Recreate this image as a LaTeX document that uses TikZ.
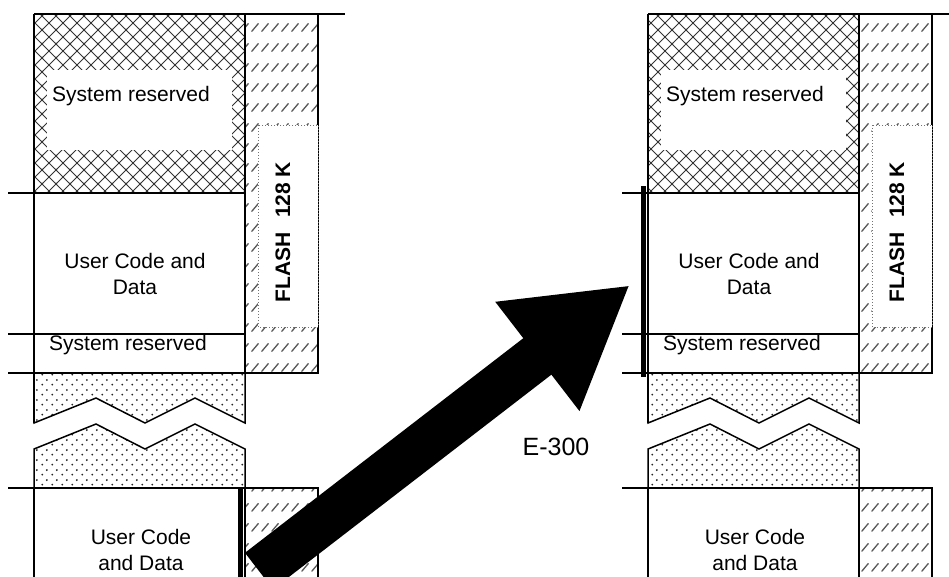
\documentclass[tikz,border=0pt]{standalone}
\usepackage{fontspec}
\setmainfont{Liberation Sans}
\usetikzlibrary{patterns,arrows.meta}

% fill patterns of the memory map
\pgfdeclarepatternformonly{xhatch}{\pgfpoint{-1pt}{-1pt}}{\pgfpoint{15pt}{15pt}}{\pgfpoint{14pt}{14pt}}{
  \pgfsetlinewidth{0.9pt}
  \pgfpathmoveto{\pgfpoint{-1pt}{-1pt}}\pgfpathlineto{\pgfpoint{15pt}{15pt}}
  \pgfpathmoveto{\pgfpoint{-1pt}{15pt}}\pgfpathlineto{\pgfpoint{15pt}{-1pt}}
  \pgfusepath{stroke}}
\pgfdeclarepatternformonly{dotgrid}{\pgfpoint{0pt}{0pt}}{\pgfpoint{10pt}{10pt}}{\pgfpoint{10pt}{10pt}}{
  \pgfpathcircle{\pgfpoint{2.5pt}{2.5pt}}{1.1pt}
  \pgfpathcircle{\pgfpoint{7.5pt}{7.5pt}}{1.1pt}
  \pgfusepath{fill}}
\pgfdeclarepatternformonly{dashhatch}{\pgfpoint{0pt}{0pt}}{\pgfpoint{10pt}{20pt}}{\pgfpoint{10pt}{20pt}}{
  \pgfsetlinewidth{1.4pt}
  \pgfsetroundcap
  \pgfpathmoveto{\pgfpoint{2pt}{6pt}}\pgfpathlineto{\pgfpoint{9pt}{14pt}}
  \pgfusepath{stroke}}

\tikzset{
  memline/.style={line width=1.5pt},
  secline/.style={line width=2.2pt},
  membar/.style={line width=5pt},
  memtext/.style={font=\fontsize{21}{25.5}\selectfont, align=center, inner sep=0pt},
  xfill/.style={pattern=xhatch, pattern color=black!80},
  dotfill/.style={pattern=dotgrid, pattern color=black!85},
  flashfill/.style={pattern=dashhatch, pattern color=black!65},
}

\begin{document}
\begin{tikzpicture}[x=1pt,y=-1pt]
  \useasboundingbox (0,0) rectangle (949,576);
  \clip (0,0) rectangle (949,576);
  \foreach \ox/\nm in {0/L,614/R}{
    \begin{scope}[xshift=\ox pt]
      % upper part: reserved, user code, reserved
      \fill[xfill] (34,14) rectangle (245,193);
      \fill[white] (47,70) rectangle (232,150);
      \fill[flashfill] (245,14) rectangle (318,373);
      \draw[memline] (245,14) rectangle (318,373);
      \draw[black!55, dotted, line width=1pt, fill=white] (258,125) rectangle (318,327);
      \draw[memline] (34,14) -- (345,14);
      \draw[memline] (34,14) -- (34,423);
      \draw[secline] (8,193) -- (245,193);
      \draw[secline] (8,334) -- (245,334);
      \draw[memline] (8,373) -- (318,373);
      % break
      \draw[dotfill, memline] (34,373) -- (34,423) -- (96,398) -- (145,423) -- (195,398) -- (245,423) -- (245,373);
      \draw[dotfill, memline] (34,488) -- (34,449) -- (96,424) -- (145,449) -- (195,424) -- (245,449) -- (245,488);
      % lower part
      \fill[flashfill] (245,488) rectangle (318,590);
      \draw[memline] (245,590) -- (245,488) -- (318,488) -- (318,590);
      \draw[memline] (8,488) -- (245,488);
      \draw[memline] (34,488) -- (34,590);
      \node[memtext, anchor=west] (sysa\nm) at (52,96) {System reserved};
      \node[memtext] (code\nm) at (135,274) {User Code and\\Data};
      \node[memtext] (sysb\nm) at (128,345) {System reserved};
      \node[memtext] (codeb\nm) at (141,550) {User Code\\and Data};
      \node[memtext, rotate=90] (flash\nm) at (283,232) {\bfseries FLASH\hspace{0.4em} 128 K};
    \end{scope}
  }
  \draw[membar] (240,488) -- (240,590);
  \draw[membar] (643,186) -- (643,377);
  % copy arrow
  \coordinate (arrowtail) at (259,571);
  \coordinate (arrowtip) at (630,285);
  \draw[line width=46pt, -{Triangle[length=117pt,width=129pt]}] (arrowtail) -- (arrowtip);
  \node[font=\fontsize{25}{30}\selectfont, inner sep=0pt] (e300) at (556,447) {E-300};
\end{tikzpicture}
\end{document}
